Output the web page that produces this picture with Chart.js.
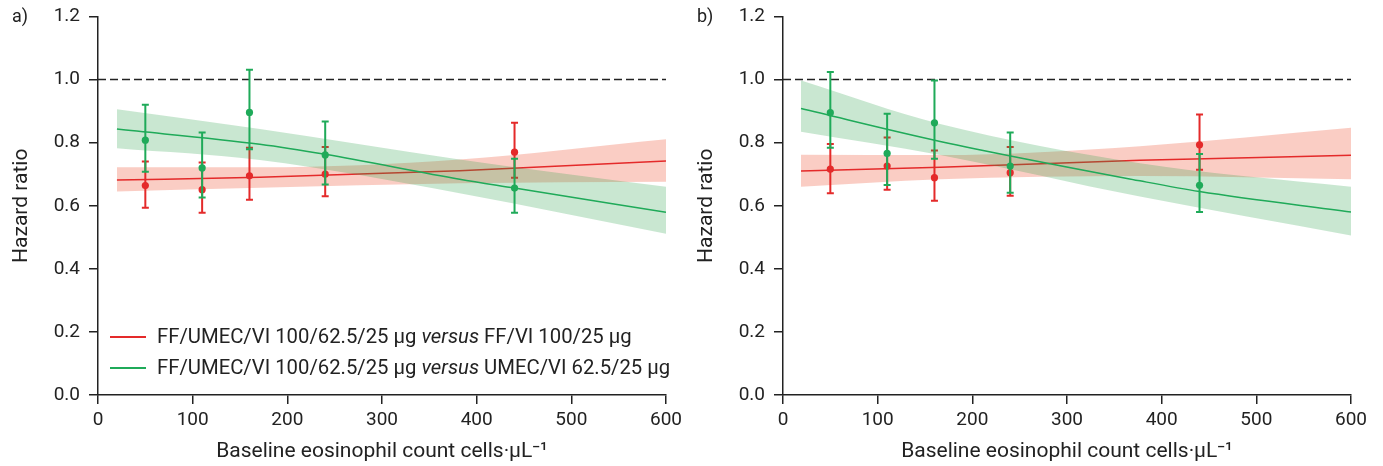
<!DOCTYPE html>
<html><head><meta charset="utf-8">
<script src="https://cdn.jsdelivr.net/npm/chart.js@4.4.0/dist/chart.umd.min.js"></script>
<style>
html,body{margin:0;padding:0;background:#fff;}
body{width:1383px;height:466px;position:relative;overflow:hidden;font-family:Roboto,sans-serif;color:#222;}
canvas{position:absolute;top:0;}
#ca{left:0;}
#cb{left:685px;}
.panel{position:absolute;top:5px;font-size:18px;line-height:22px;}
.legend{position:absolute;left:110px;top:321px;font-size:20.3px;line-height:31px;}
.legend .row{display:flex;align-items:center;white-space:nowrap;}
.legend .sw{display:inline-block;width:36px;height:2px;margin-right:11px;}
</style></head>
<body>
<canvas id="ca" width="690" height="466"></canvas>
<canvas id="cb" width="698" height="466"></canvas>
<div class="panel" style="left:12px">a)</div>
<div class="panel" style="left:697px">b)</div>
<div class="legend">
 <div class="row"><span class="sw" style="background:#e42a2a"></span>FF/UMEC/VI 100/62.5/25 µg&nbsp;<i>versus</i>&nbsp;FF/VI 100/25 µg</div>
 <div class="row"><span class="sw" style="background:#1faa59"></span>FF/UMEC/VI 100/62.5/25 µg&nbsp;<i>versus</i>&nbsp;UMEC/VI 62.5/25 µg</div>
</div>
<script>
// ---------- data ----------
const xTicks = [0, 100, 200, 300, 400, 500, 600];
const yTicks = [0, 0.2, 0.4, 0.6, 0.8, 1.0, 1.2];
const eosCounts = [50, 110, 160, 240, 440];
const xTitle = 'Baseline eosinophil count cells·µL⁻¹';
const yTitle = 'Hazard ratio';

// Panel a — observed HR with 95% CI
const aRedHR    = [0.664, 0.651, 0.695, 0.700, 0.770];
const aRedLo    = [0.594, 0.578, 0.619, 0.630, 0.689];
const aRedHi    = [0.740, 0.737, 0.784, 0.786, 0.863];
const aGreenHR  = [0.808, 0.720, 0.896, 0.761, 0.656];
const aGreenLo  = [0.708, 0.626, 0.779, 0.667, 0.578];
const aGreenHi  = [0.920, 0.832, 1.031, 0.867, 0.749];
// Panel a — fitted curves and bands
const aBandX        = [20, 171, 382, 600];
const aRedFit       = [0.682, 0.690, 0.711, 0.742];
const aRedUpper     = [0.722, 0.722, 0.747, 0.811];
const aRedLower     = [0.645, 0.657, 0.671, 0.676];
const aGreenUpper   = [0.906, 0.843, 0.747, 0.660];
const aGreenLower   = [0.782, 0.745, 0.640, 0.511];
const aGreenFitX    = [20, 171, 240, 382, 440, 600];
const aGreenFit     = [0.843, 0.795, 0.763, 0.684, 0.656, 0.579];

// Panel b — observed HR with 95% CI
const bRedHR    = [0.716, 0.726, 0.689, 0.705, 0.793];
const bRedLo    = [0.640, 0.651, 0.616, 0.632, 0.714];
const bRedHi    = [0.796, 0.816, 0.775, 0.786, 0.889];
const bGreenHR  = [0.895, 0.766, 0.863, 0.726, 0.665];
const bGreenLo  = [0.784, 0.666, 0.749, 0.641, 0.580];
const bGreenHi  = [1.024, 0.892, 0.997, 0.832, 0.764];
// Panel b — fitted curves and bands
const bBandX        = [19, 166, 377, 600];
const bRedFit       = [0.710, 0.722, 0.744, 0.760];
const bRedUpper     = [0.762, 0.761, 0.789, 0.847];
const bRedLower     = [0.660, 0.684, 0.694, 0.684];
const bGreenUpper   = [0.997, 0.859, 0.735, 0.660];
const bGreenLower   = [0.835, 0.761, 0.629, 0.506];
const bGreenFitX    = [19, 166, 377, 440, 600];
const bGreenFit     = [0.908, 0.804, 0.679, 0.645, 0.580];

const refLineX = [0, 600];
const refLineY = [1.0, 1.0];

// ---------- styles ----------
const RED = '#e42a2a', GREEN = '#1faa59';
const RED_BAND = 'rgba(238,90,60,0.30)', GREEN_BAND = 'rgba(40,160,70,0.25)';
const TICK_FONT = {family: 'Roboto', size: 19};
const TITLE_FONT = {family: 'Roboto', size: 21};
const AXIS = '#222';

const zip = (xs, ys) => xs.map((x, i) => ({x, y: ys[i]}));

const errorBars = {
  id: 'errorBars',
  beforeDatasetDraw(chart, args) {
    const ds = chart.data.datasets[args.index];
    if (!ds.errLo) return;
    const ctx = chart.ctx, xs = chart.scales.x, ys = chart.scales.y;
    ctx.save();
    ctx.strokeStyle = ds.borderColor;
    ctx.lineWidth = 2;
    ds.data.forEach((p, i) => {
      const x = xs.getPixelForValue(p.x);
      const yl = ys.getPixelForValue(ds.errLo[i]);
      const yh = ys.getPixelForValue(ds.errHi[i]);
      ctx.beginPath();
      ctx.moveTo(x, yl); ctx.lineTo(x, yh);
      ctx.moveTo(x - 3.5, yl); ctx.lineTo(x + 3.5, yl);
      ctx.moveTo(x - 3.5, yh); ctx.lineTo(x + 3.5, yh);
      ctx.stroke();
    });
    ctx.restore();
  }
};

function makeChart(id, P) {
  const curve = {pointRadius: 0, tension: 0.4, cubicInterpolationMode: 'monotone'};
  const datasets = [
    // index 0 drawn last (on top)
    {data: zip(eosCounts, P.gHR), errLo: P.gLo, errHi: P.gHi, showLine: false, borderColor: GREEN,
     pointRadius: 3.6, pointBackgroundColor: GREEN, pointBorderWidth: 0},
    {data: zip(P.gFitX, P.gFit), borderColor: GREEN, borderWidth: 1.5, fill: false, ...curve},
    {data: zip(P.bandX, P.gUp), borderWidth: 0, borderColor: 'transparent', backgroundColor: GREEN_BAND, fill: '+1', ...curve},
    {data: zip(P.bandX, P.gLow), borderWidth: 0, borderColor: 'transparent', fill: false, ...curve},
    {data: zip(eosCounts, P.rHR), errLo: P.rLo, errHi: P.rHi, showLine: false, borderColor: RED,
     pointRadius: 3.6, pointBackgroundColor: RED, pointBorderWidth: 0},
    {data: zip(P.bandX, P.rFit), borderColor: RED, borderWidth: 1.5, fill: false, ...curve},
    {data: zip(P.bandX, P.rUp), borderWidth: 0, borderColor: 'transparent', backgroundColor: RED_BAND, fill: '+1', ...curve},
    {data: zip(P.bandX, P.rLow), borderWidth: 0, borderColor: 'transparent', fill: false, ...curve},
    {data: zip(refLineX, refLineY), borderColor: '#222', borderWidth: 1.5, borderDash: [8, 4], pointRadius: 0, fill: false}
  ];
  return new Chart(document.getElementById(id), {
    type: 'line',
    data: {datasets},
    plugins: [errorBars],
    options: {
      responsive: false,
      animation: false,
      layout: {padding: {top: 16.5, right: P.padRight, bottom: 0, left: 0}},
      plugins: {legend: {display: false}, tooltip: {enabled: false}},
      scales: {
        x: {
          type: 'linear', min: 0, max: 600,
          afterBuildTicks: s => { s.ticks = xTicks.map(v => ({value: v})); },
          ticks: {font: TICK_FONT, color: AXIS, padding: 5, maxRotation: 0, autoSkip: false},
          grid: {drawOnChartArea: false, drawTicks: true, tickLength: 9, color: AXIS, lineWidth: 1.5},
          border: {color: AXIS, width: 1.5},
          title: {display: true, text: xTitle, font: TITLE_FONT, color: AXIS, padding: {top: 4, bottom: 2}},
          afterFit: s => { s.height = 71; }
        },
        y: {
          type: 'linear', min: 0, max: 1.2,
          afterBuildTicks: s => { s.ticks = yTicks.map(v => ({value: v})); },
          ticks: {font: TICK_FONT, color: AXIS, padding: 9, callback: v => v.toFixed(1)},
          grid: {drawOnChartArea: false, drawTicks: true, tickLength: 9, color: AXIS, lineWidth: 1.5},
          border: {color: AXIS, width: 1.5},
          title: {display: true, text: yTitle, font: TITLE_FONT, color: AXIS, padding: {top: 9, bottom: 4}},
          afterFit: s => { s.width = 98; s.paddingTop = 0; s.paddingBottom = 0; }
        }
      }
    }
  });
}

makeChart('ca', {
  gHR: aGreenHR, gLo: aGreenLo, gHi: aGreenHi, rHR: aRedHR, rLo: aRedLo, rHi: aRedHi,
  bandX: aBandX, rFit: aRedFit, rUp: aRedUpper, rLow: aRedLower,
  gUp: aGreenUpper, gLow: aGreenLower, gFitX: aGreenFitX, gFit: aGreenFit, padRight: 24
});
makeChart('cb', {
  gHR: bGreenHR, gLo: bGreenLo, gHi: bGreenHi, rHR: bRedHR, rLo: bRedLo, rHi: bRedHi,
  bandX: bBandX, rFit: bRedFit, rUp: bRedUpper, rLow: bRedLower,
  gUp: bGreenUpper, gLow: bGreenLower, gFitX: bGreenFitX, gFit: bGreenFit, padRight: 32
});
</script>
</body></html>
